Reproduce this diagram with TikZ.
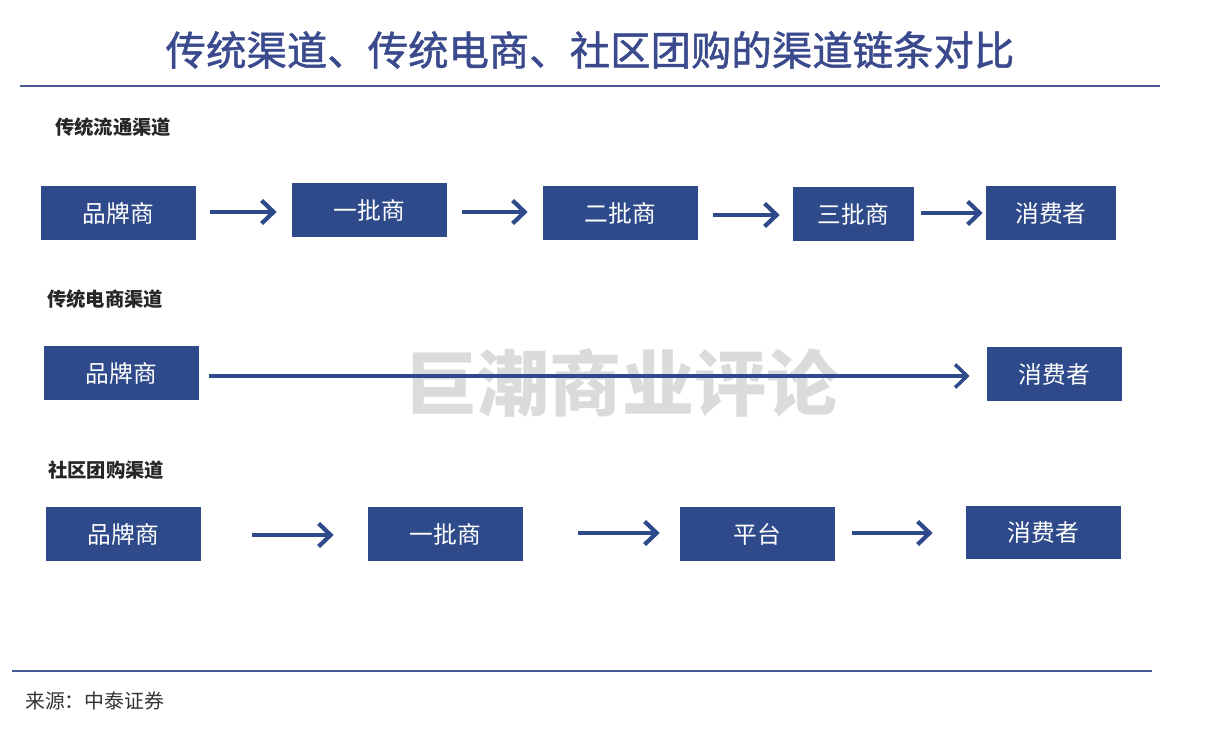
\documentclass[tikz,border=0pt]{standalone}
\usepackage{fontspec}
\setmainfont{Noto Sans CJK SC}
\newfontfamily\titlefont[FakeBold=1.2]{Noto Sans CJK SC}
\usetikzlibrary{arrows.meta}
\definecolor{chanblue}{HTML}{2F4A8A}
\definecolor{titleblue}{HTML}{3A4A8C}
\definecolor{ruleblue}{HTML}{4A5A96}
\tikzset{
  firm/.style={fill=chanblue, text=white, minimum width=3.1cm, minimum height=1.08cm,
    inner sep=0pt, font=\fontsize{13.5}{15}\selectfont},
  flow/.style={-{Straight Barb[length=2.4mm,width=4.6mm]}, chanblue, line width=2.4pt},
  rowlabel/.style={anchor=west, font=\bfseries\fontsize{11}{13}\selectfont, text=black!85}
}
\begin{document}
\begin{tikzpicture}[x=0.02cm, y=-0.02cm]
 \useasboundingbox (0,0) rectangle (1208,732);
 % title and rules
 \node[text=titleblue, font=\titlefont\fontsize{23}{26}\selectfont] (title) at (590,50) {传统渠道、传统电商、社区团购的渠道链条对比};
 \draw[ruleblue, line width=1.6pt] (20,86) -- (1160,86);
 \draw[ruleblue, line width=1.4pt] (12,671) -- (1152,671);
 \node[anchor=west, text=black!80, font=\fontsize{11.3}{13}\selectfont] (source) at (19,701) {来源：中泰证券};
 % watermark
 \node[text=black!14, font=\bfseries\fontsize{41}{44}\selectfont] (mark) at (622,383) {巨潮商业评论};
 % row 1
 \node[rowlabel] (lab1) at (49,127) {传统流通渠道};
 \node[firm] (a1) at (118.5,213) {品牌商};
 \node[firm] (a2) at (369.5,210) {一批商};
 \node[firm] (a3) at (620.5,213.5) {二批商};
 \node[firm, minimum width=2.42cm] (a4) at (853.5,214) {三批商};
 \node[firm, minimum width=2.6cm] (a5) at (1051,213) {消费者};
 \draw[flow, shorten <=0.28cm, shorten >=0.3cm] (a1.east |- 0,212) -- (a2.west |- 0,212);
 \draw[flow, shorten <=0.3cm, shorten >=0.3cm] (a2.east |- 0,212) -- (a3.west |- 0,212);
 \draw[flow, shorten <=0.3cm, shorten >=0.26cm] (a3.east |- 0,215) -- (a4.west |- 0,215);
 \draw[flow, shorten <=0.14cm, shorten >=0.06cm] (a4.east |- 0,213) -- (a5.west |- 0,213);
 % row 2
 \node[rowlabel] (lab2) at (41,299) {传统电商渠道};
 \node[firm] (b1) at (121.5,373.5) {品牌商};
 \node[firm, minimum width=2.7cm] (b2) at (1054.5,374.5) {消费者};
 \draw[flow, line width=2pt, shorten <=0.2cm, shorten >=0.34cm] (b1.east |- 0,376) -- (b2.west |- 0,376);
 % row 3
 \node[rowlabel] (lab3) at (42,470) {社区团购渠道};
 \node[firm] (c1) at (123.5,534) {品牌商};
 \node[firm] (c2) at (445.5,534) {一批商};
 \node[firm] (c3) at (757.5,534) {平台};
 \node[firm] (c4) at (1043.5,532.5) {消费者};
 \draw[flow, shorten <=1.02cm, shorten >=0.68cm] (c1.east |- 0,535) -- (c2.west |- 0,535);
 \draw[flow, shorten <=1.1cm, shorten >=0.4cm] (c2.east |- 0,533) -- (c3.west |- 0,533);
 \draw[flow, shorten <=0.34cm, shorten >=0.66cm] (c3.east |- 0,533) -- (c4.west |- 0,533);
\end{tikzpicture}
\end{document}
